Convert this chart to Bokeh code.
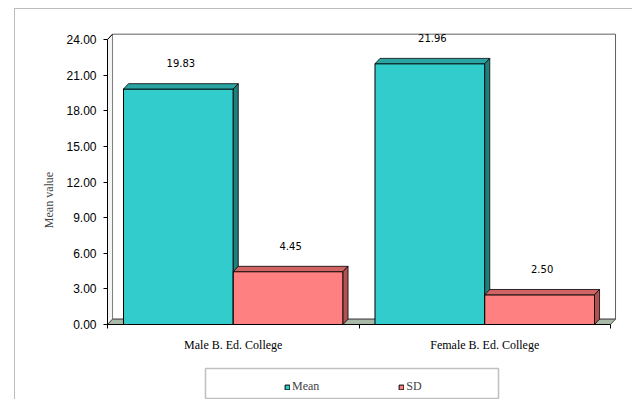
from bokeh.plotting import figure
from bokeh.models import (FixedTicker, NumeralTickFormatter, Range1d, ColumnDataSource,
                          BoxAnnotation, Legend, LegendItem)
from bokeh.embed import file_html
from bokeh.resources import INLINE
from bokeh.core.properties import value

# ---- data ----
categories = ["Male B. Ed. College", "Female B. Ed. College"]
series_names = ["Mean", "SD"]
mean_values = [19.83, 21.96]
sd_values = [4.45, 2.50]
y_ticks = [0, 3, 6, 9, 12, 15, 18, 21, 24]

# ---- styling / geometry ----
W, H = 632, 399
X0, XS = 107, 251.5     # pixel of category-axis origin, pixels per category
Y0, YS = 324, 11.875    # pixel of value 0, pixels per unit


def px_x(px):
    return (px - X0) / XS


def px_y(py):
    return (Y0 - py) / YS


DX = 0.02      # 3D depth (category units)
DY = 0.45      # 3D depth (value units)
GAP = 0.0636   # gap at category edge
BW = 0.4364    # bar width
YMAX = 24

front_colors = ["#33CCCC", "#FF8080"]
top_colors = ["#2aa3a3", "#d06464"]
side_colors = ["#1f7f7f", "#b05252"]

p = figure(width=W, height=H, output_backend="svg", toolbar_location=None,
           x_range=Range1d(px_x(0), px_x(W)), y_range=Range1d(px_y(H), px_y(0)),
           min_border_left=0, min_border_right=0, min_border_top=0, min_border_bottom=0)
p.outline_line_color = None
p.xgrid.visible = False
p.ygrid.visible = False
p.background_fill_color = "white"
p.border_fill_color = "white"

# outer chart border
p.add_layout(BoxAnnotation(left=px_x(14), right=px_x(700), top=px_y(8), bottom=px_y(600),
                           fill_alpha=0, line_color="#202020", line_width=1, level="underlay"))

# back wall, side wall, floor
p.patch([DX, DX, 2 + DX, 2 + DX], [DY, YMAX + DY, YMAX + DY, DY],
        fill_color="white", line_color="#606060", line_width=1)
p.patch([0, 0, DX, DX], [0, YMAX, YMAX + DY, DY],
        fill_color="#f4f4f4", line_color="#808080", line_width=1)
p.patch([0, 2, 2 + DX, DX], [0, 0, DY, DY],
        fill_color="#a9b9a8", line_color="#505050", line_width=1)
p.line([0, 0, DX], [0, YMAX, YMAX + DY], line_color="black", line_width=1)
p.line([0, 2], [0, 0], line_color="black", line_width=1)

renderers = []
for si, vals in enumerate([mean_values, sd_values]):
    lefts = [ci + GAP + si * BW for ci in range(len(categories))]
    rights = [l + BW for l in lefts]
    src = ColumnDataSource(dict(left=lefts, right=rights, top=vals,
                                bottom=[0] * len(vals)))
    r = p.quad(left="left", right="right", top="top", bottom="bottom", source=src,
               fill_color=front_colors[si], line_color="black", line_width=1)
    renderers.append(r)
    top_xs = [[l, r_, r_ + DX, l + DX] for l, r_ in zip(lefts, rights)]
    top_ys = [[v, v, v + DY, v + DY] for v in vals]
    p.patches(top_xs, top_ys, fill_color=top_colors[si], line_color="black", line_width=0.8)
    side_xs = [[r_, r_, r_ + DX, r_ + DX] for r_ in rights]
    side_ys = [[0, v, v + DY, DY] for v in vals]
    p.patches(side_xs, side_ys, fill_color=side_colors[si], line_color="black", line_width=0.8)
    centers = [(l + r_) / 2 + DX / 2 for l, r_ in zip(lefts, rights)]
    p.text(x=centers, y=vals, text=["%.2f" % v for v in vals], text_align="center",
           text_baseline="middle", y_offset=-26, text_font=value("DejaVu Sans"),
           text_font_size="10px", text_color="black")

# axes (fixed at the data origin)
yax = p.yaxis[0]
yax.fixed_location = 0
yax.ticker = FixedTicker(ticks=y_ticks)
yax.formatter = NumeralTickFormatter(format="0.00")
yax.axis_line_color = None
yax.major_tick_in = 0
yax.major_tick_out = 4
yax.minor_tick_line_color = None
yax.major_label_standoff = 7
yax.major_label_text_font = "Liberation Sans"
yax.major_label_text_font_size = "12px"
yax.major_label_text_color = "black"
yax.axis_label = "Mean value"
yax.axis_label_text_font = "Liberation Serif"
yax.axis_label_text_font_style = "normal"
yax.axis_label_text_font_size = "12px"
yax.axis_label_standoff = 7

xax = p.xaxis[0]
xax.fixed_location = 0
xax.ticker = FixedTicker(ticks=[0.5, 1.5], minor_ticks=[0, 1, 2])
xax.major_label_overrides = {0.5: categories[0], 1.5: categories[1]}
xax.major_tick_line_color = None
xax.major_tick_in = 0
xax.major_tick_out = 0
xax.minor_tick_in = 0
xax.minor_tick_out = 4
xax.minor_tick_line_color = "black"
xax.axis_line_color = None
xax.major_label_standoff = 9
xax.major_label_text_font = "Liberation Serif"
xax.major_label_text_font_size = "12px"
xax.major_label_text_color = "black"

# legend frame
p.add_layout(BoxAnnotation(left=px_x(205), right=px_x(498), top=px_y(368), bottom=px_y(398),
                           fill_color="white", fill_alpha=1, line_color="#303030",
                           line_width=1.5, level="overlay"))

legend = Legend(items=[LegendItem(label=series_names[i], renderers=[renderers[i]]) for i in range(2)],
                location=(284, H - 394), orientation="horizontal", padding=0, margin=0,
                spacing=79, glyph_width=6, glyph_height=6, label_standoff=2,
                border_line_color=None, background_fill_alpha=0,
                label_text_font="Liberation Serif", label_text_font_size="12px")
p.add_layout(legend)

open("out.html", "w").write(file_html(p, INLINE))
